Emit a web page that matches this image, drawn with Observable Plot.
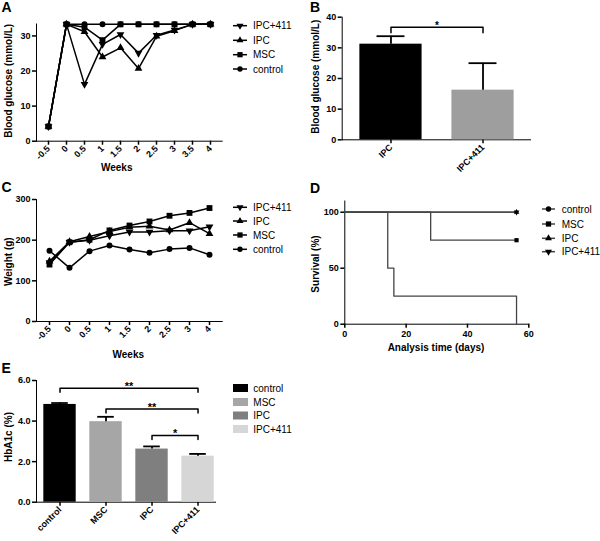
<!DOCTYPE html>
<html><head><meta charset="utf-8">
<script src="https://cdn.jsdelivr.net/npm/d3@7"></script>
<script src="https://cdn.jsdelivr.net/npm/@observablehq/plot@0.6"></script>
<style>
body{margin:0;background:#fff;}
#fig{position:relative;width:600px;height:541px;background:#fff;overflow:hidden;font-family:"Liberation Sans",Arial,sans-serif;}
#fig svg{position:absolute;overflow:visible;}
#fig svg [aria-label*="axis"] path, #fig svg [aria-label*="axis"] line{stroke-width:1.5px;}
</style></head>
<body><div id="fig"></div>
<script>
// ---------- data ----------
// Panel A: blood glucose (mmol/L) by week
const weeksA = ["-0.5","0","0.5","1","1.5","2","2.5","3","3.5","4"];
const glucoseControl = [4.2,33.3,33.3,33.3,33.3,33.3,33.3,33.3,33.3,33.3];
const glucoseMSC     = [4.2,33.3,32.5,28.8,33.3,33.3,33.3,33.3,33.3,33.3];
const glucoseIPC     = [4.2,33.3,31.2,24.0,26.6,20.7,29.9,31.5,33.3,33.3];
const glucoseIPC411  = [4.2,33.3,16.2,27.6,30.4,25.1,30.2,31.7,33.3,33.3];
const ticksA = [0,10,20,30];

// Panel B: blood glucose bars
const groupsB = ["IPC","IPC+411"];
const meanB = [31.2,16.2];
const semB = [2.6,8.8];
const ticksB = [0,10,20,30,40];

// Panel C: weight (g) by week
const weeksC = ["-0.5","0","0.5","1","1.5","2","2.5","3","4"];
const weightControl = [174,132,173,187,177,169,178,181,164];
const weightMSC     = [140,195,201,224,236,246,260,267,279];
const weightIPC     = [148,196,209,221,232,234,225,243,216];
const weightIPC411  = [145,195,200,211,220,220,223,223,233];
const ticksC = [0,100,200,300];

// Panel D: survival (%) vs analysis time (days)
const survControlT = [0,14,16,56], survControlP = [100,50,25,0];
const survMSCT = [0,28,56],        survMSCP = [100,75,75];
const survIPCT = [0,56],           survIPCP = [100,100];
const survIPC411T = [0,56],        survIPC411P = [100,100];
const ticksDx = [0,20,40,60];
const ticksDy = [0,50,100];

// Panel E: HbA1c (%)
const groupsE = ["control","MSC","IPC","IPC+411"];
const meanE = [4.82,3.97,2.62,2.27];
const semE = [0.07,0.24,0.13,0.11];
const ticksE = [0,2,4,6];
const bracketsE = [
  {from:0,to:3,y:5.62,label:"**"},
  {from:1,to:3,y:4.60,label:"**"},
  {from:2,to:3,y:3.29,label:"*"}
];
const bracketB = {from:0,to:1,y:36.7,label:"*"};

// ---------- styles ----------
const colorsB = ["#000000","#9e9e9e"];
const colorsE = ["#000000","#a6a6a6","#7f7f7f","#d6d6d6"];
const triDown = {draw(ctx,size){const s3=Math.sqrt(3);const y=-Math.sqrt(size/(s3*3));ctx.moveTo(0,-y*2);ctx.lineTo(-s3*y,y);ctx.lineTo(s3*y,y);ctx.closePath();}};
const SYM = {
  control:{symbol:"circle",r:3},
  MSC:{symbol:"square",r:3.3},
  IPC:{symbol:"triangle",r:2.9},
  "IPC+411":{symbol:triDown,r:2.9}
};
const fig = document.getElementById("fig");
const baseStyle = {background:"transparent",fontFamily:"'Liberation Sans',Arial,sans-serif",fontSize:"9px",fontWeight:"bold",color:"#000",overflow:"visible"};

function place(svg,left,top){svg.style.left=left+"px";svg.style.top=top+"px";fig.appendChild(svg);}
function longRows(cats, series){return series.flatMap(s=>cats.map((c,i)=>({cat:c,value:s.values[i],group:s.name})));}

function linePanel(cats, series, opts){
  const rows = longRows(cats, series);
  const marks = [Plot.line(rows,{x:"cat",y:"value",z:"group",stroke:"#000",strokeWidth:1.5})];
  for (const s of series){
    const m = SYM[s.name];
    marks.push(Plot.dot(rows.filter(d=>d.group===s.name),{x:"cat",y:"value",symbol:m.symbol,r:m.r,fill:"#000",stroke:"none"}));
  }
  return Plot.plot({
    width:opts.width,height:opts.height,
    marginLeft:opts.ml,marginRight:opts.mr,marginTop:opts.mt,marginBottom:opts.mb,
    style:baseStyle,
    x:{type:"point",domain:cats,padding:opts.pad,label:null,tickRotate:-45,tickSize:4,tickPadding:2,line:true},
    y:{domain:opts.ydomain,ticks:opts.yticks,label:null,tickSize:4,tickPadding:2,line:true},
    marks
  });
}

// Panel A
place(linePanel(weeksA,[
  {name:"control",values:glucoseControl},
  {name:"MSC",values:glucoseMSC},
  {name:"IPC",values:glucoseIPC},
  {name:"IPC+411",values:glucoseIPC411}
],{width:300,height:175,ml:36,mr:78.3,mt:23.5,mb:34.3,pad:0.57,ydomain:[0,33.4],yticks:ticksA}),0,0);

// Panel C
place(linePanel(weeksC,[
  {name:"control",values:weightControl},
  {name:"MSC",values:weightMSC},
  {name:"IPC",values:weightIPC},
  {name:"IPC+411",values:weightIPC411}
],{width:300,height:175,ml:36,mr:78.3,mt:29,mb:24,pad:0.556,ydomain:[0,300],yticks:ticksC}),0,170);

// bar panel helper
function barPanel(groups, means, sems, colors, brackets, opts){
  const idx = groups.map((g,i)=>i);
  const brRows = brackets.flatMap((b,k)=>[
    {k,x:b.from,y:b.y-opts.drop},{k,x:b.from,y:b.y},{k,x:b.to,y:b.y},{k,x:b.to,y:b.y-opts.drop}
  ]);
  return Plot.plot({
    width:opts.width,height:opts.height,
    marginLeft:opts.ml,marginRight:opts.mr,marginTop:opts.mt,marginBottom:opts.mb,
    style:baseStyle,
    color:{type:"identity"},
    x:{domain:opts.xdomain,ticks:idx,tickFormat:i=>groups[i],label:null,tickRotate:-45,tickSize:4,tickPadding:2,line:true},
    y:{domain:opts.ydomain,ticks:opts.yticks,label:null,tickSize:4,tickPadding:2,line:true},
    marks:[
      Plot.rectY(idx,{x1:i=>i-opts.hw,x2:i=>i+opts.hw,y1:0,y2:i=>means[i],fill:i=>colors[i]}),
      Plot.ruleX(idx,{x:i=>i,y1:i=>means[i],y2:i=>means[i]+sems[i],stroke:"#000",strokeWidth:1.8}),
      Plot.ruleY(idx,{y:i=>means[i]+sems[i],x1:i=>i-opts.cw,x2:i=>i+opts.cw,stroke:"#000",strokeWidth:1.8}),
      Plot.line(brRows,{x:"x",y:"y",z:"k",stroke:"#000",strokeWidth:1.5}),
      Plot.text(brackets,{x:b=>(b.from+b.to)/2,y:"y",text:"label",dy:-1.5,fontSize:opts.starSize,fontWeight:"bold"})
    ]
  });
}

// Panel B
place(barPanel(groupsB,meanB,semB,colorsB,[bracketB],
  {width:300,height:175,ml:41.7,mr:70,mt:16.7,mb:35.7,xdomain:[-0.53,1.516],ydomain:[0,40],yticks:ticksB,hw:0.338,cw:0.152,drop:1.8,starSize:10}),300,0);

// Panel E
place(barPanel(groupsE,meanE,semE,colorsE,bracketsE,
  {width:330,height:196,ml:36,mr:115,mt:35,mb:39.3,xdomain:[-0.511,3.38],ydomain:[0,6],yticks:ticksE,hw:0.352,cw:0.18,drop:0.2,starSize:11}),0,345);

// Panel D
(function(){
  const series = [
    {name:"control",t:survControlT,p:survControlP},
    {name:"MSC",t:survMSCT,p:survMSCP},
    {name:"IPC",t:survIPCT,p:survIPCP},
    {name:"IPC+411",t:survIPC411T,p:survIPC411P}
  ];
  const rows = series.flatMap(s=>s.t.map((t,i)=>({t,p:s.p[i],group:s.name})));
  const ends = series.filter(s=>s.name!=="control").map(s=>({t:s.t[s.t.length-1],p:s.p[s.p.length-1],group:s.name}));
  const marks = [Plot.line(rows,{x:"t",y:"p",z:"group",curve:"step-after",stroke:"#444",strokeWidth:1.3})];
  for (const e of ends){
    const m = SYM[e.group];
    marks.push(Plot.dot([e],{x:"t",y:"p",symbol:m.symbol,r:m.r*0.72,fill:"#000",stroke:"none"}));
  }
  place(Plot.plot({
    width:300,height:175,marginLeft:44.3,marginRight:71.7,marginTop:30.5,marginBottom:21.3,
    style:baseStyle,
    x:{domain:[0,60],ticks:ticksDx,label:null,tickSize:4,tickPadding:2,line:true},
    y:{domain:[0,110],ticks:ticksDy,label:null,tickSize:4,tickPadding:2,line:true},
    marks
  }),300,170);
})();

// ---------- overlay: panel letters, axis titles, legends ----------
const ov = d3.create("svg").attr("width",600).attr("height",541).style("left","0px").style("top","0px")
  .style("pointer-events","none").attr("font-family","'Liberation Sans',Arial,sans-serif");
fig.appendChild(ov.node());
function txt(s,x,y,o={}){
  const t = ov.append("text").attr("x",x).attr("y",y).text(s)
    .attr("font-size",o.size||10).attr("font-weight",o.weight||"normal")
    .attr("text-anchor",o.anchor||"start").attr("fill","#000");
  if (o.rot) t.attr("transform",`rotate(${o.rot},${x},${y})`);
  return t;
}
// panel letters
txt("A",1.5,11.7,{size:14,weight:"bold"});
txt("B",310,11.7,{size:14,weight:"bold"});
txt("C",1.5,191.7,{size:14,weight:"bold"});
txt("D",310,193.3,{size:14,weight:"bold"});
txt("E",1.5,373.3,{size:14,weight:"bold"});
// axis titles
txt("Weeks",116.7,170.5,{weight:"bold",anchor:"middle"});
txt("Weeks",128.3,358.3,{weight:"bold",anchor:"middle"});
txt("Analysis time (days)",436,350.5,{weight:"bold",anchor:"middle"});
txt("Blood glucose (mmol/L)",11.8,80.8,{weight:"bold",anchor:"middle",rot:-90});
txt("Blood glucose (mmol/L)",319.3,76.7,{weight:"bold",anchor:"middle",rot:-90});
txt("Weight (g)",11.8,261.7,{weight:"bold",anchor:"middle",rot:-90});
txt("Survival (%)",319.3,264,{weight:"bold",anchor:"middle",rot:-90});
txt("HbA1c (%)",11.8,437,{weight:"bold",anchor:"middle",rot:-90});

// legends
function symPath(name,scale){
  const m = SYM[name];
  const type = m.symbol==="circle"?d3.symbolCircle:m.symbol==="square"?d3.symbolSquare:m.symbol==="triangle"?d3.symbolTriangle:triDown;
  return d3.symbol(type, m.r*m.r*Math.PI*scale)();
}
function lineLegend(names, ys, x1, x2, tx, color){
  names.forEach((n,i)=>{
    const y = ys[i], cx=(x1+x2)/2;
    ov.append("line").attr("x1",x1).attr("x2",x2).attr("y1",y).attr("y2",y).attr("stroke",color).attr("stroke-width",1.5);
    ov.append("path").attr("d",symPath(n,0.8)).attr("transform",`translate(${cx},${y})`).attr("fill","#000");
    txt(n,tx,y+3.6,{size:10});
  });
}
lineLegend(["IPC+411","IPC","MSC","control"],[25.7,40.3,54.7,69],233,247,253,"#000");
lineLegend(["IPC+411","IPC","MSC","control"],[207.3,221,235,249.3],233,247,253,"#000");
lineLegend(["control","MSC","IPC","IPC+411"],[209,224,238.3,251.7],542,555,561.7,"#444");
groupsE.forEach((g,i)=>{
  const y=[388,402,415.5,429][i];
  ov.append("rect").attr("x",233).attr("y",y-4).attr("width",15).attr("height",8).attr("fill",colorsE[i]);
  txt(g,253.3,y+3.6,{size:10});
});
</script></body></html>
